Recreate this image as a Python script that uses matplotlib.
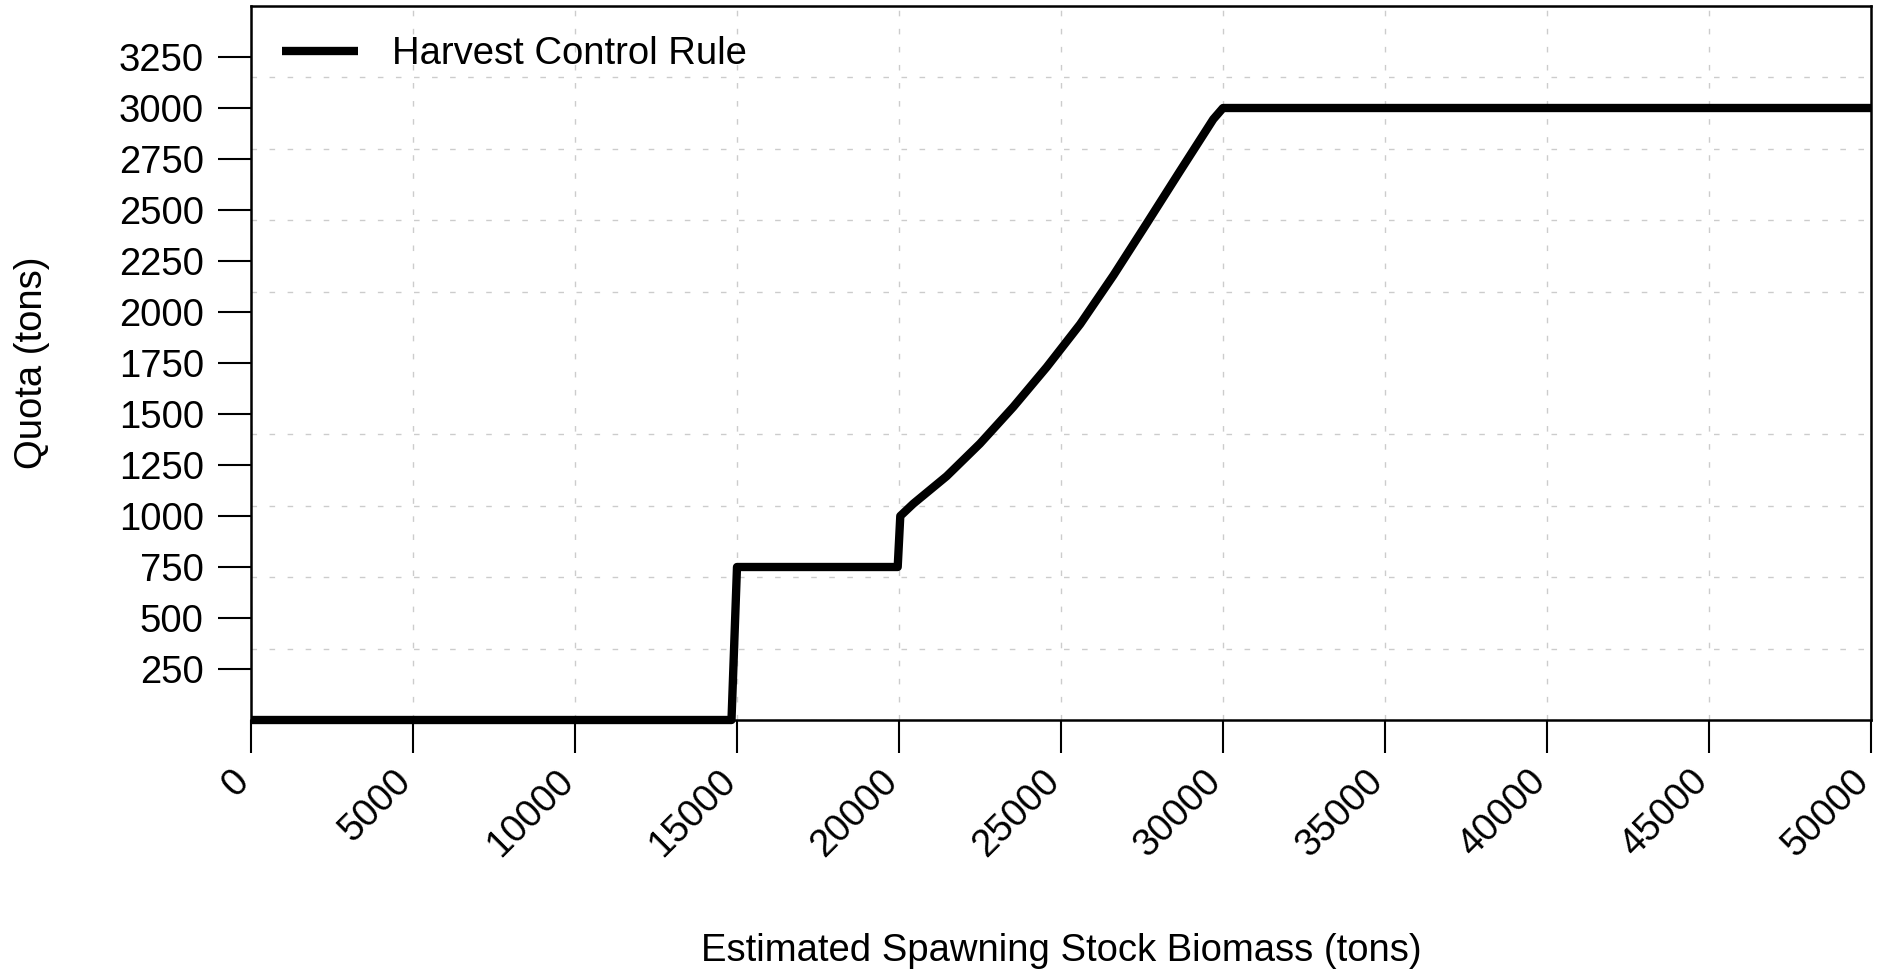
import matplotlib
matplotlib.use("Agg")
import matplotlib.pyplot as plt
from matplotlib.ticker import MultipleLocator
from matplotlib.transforms import ScaledTranslation
import numpy as np

plt.rcParams['font.family'] = ['Liberation Sans', 'DejaVu Sans']

# harvest control rule
ssb = [0, 14830, 15000, 19960, 20040, 20440, 21470, 22500, 23530, 24560,
       25590, 26620, 27650, 28670, 29700, 30000, 50000]
quota = [0, 0, 750, 750, 1000, 1060, 1195, 1355, 1535, 1730,
         1940, 2180, 2435, 2690, 2945, 3000, 3000]

xticks = np.arange(0, 50001, 5000)
yticks = np.arange(250, 3251, 250)


def plot_rule():
    fig = plt.figure(figsize=(18.9, 9.75), dpi=100)
    ax = fig.add_axes([251/1890, 1-720/975, 1620/1890, 714/975])

    ax.plot(ssb, quota, color='black', lw=6, solid_joinstyle='round',
            solid_capstyle='butt', clip_on=False, label='Harvest Control Rule', zorder=3)

    ax.set_xlim(0, 50000)
    ax.set_ylim(0, 3500)
    ax.set_xticks(xticks)
    ax.set_yticks(yticks)
    ax.set_xticklabels([str(v) for v in xticks], rotation=45, ha='right', va='baseline',
                       rotation_mode='anchor')
    # nudge the slanted labels a little to the right, like the original
    shift = ScaledTranslation(15/100, 0, fig.dpi_scale_trans)
    for lab in ax.get_xticklabels():
        lab.set_transform(lab.get_transform() + shift)

    ax.yaxis.set_minor_locator(MultipleLocator(350))
    ax.tick_params(which='major', length=24, width=1.5, labelsize=27.5, direction='out')
    ax.tick_params(axis='x', pad=21)
    ax.tick_params(axis='y', pad=10)
    ax.tick_params(which='minor', length=0)

    ax.grid(True, which='major', axis='x', color='#cccccc', lw=1.0, dashes=(4, 9))
    ax.grid(True, which='minor', axis='y', color='#cccccc', lw=1.0, dashes=(4, 9))
    ax.set_axisbelow(True)
    for s in ax.spines.values():
        s.set_linewidth(1.8)

    ax.set_xlabel('Estimated Spawning Stock Biomass (tons)', fontsize=27.5)
    ax.xaxis.set_label_coords(0.5, -0.298)
    ax.set_ylabel('Quota (tons)', fontsize=27.5)
    ax.yaxis.set_label_coords(-0.124, 0.5)

    ax.legend(loc='center left', bbox_to_anchor=(0.0191, 0.9328), frameon=False,
              fontsize=27.5, handlelength=2.0, handletextpad=0.88, borderpad=0,
              borderaxespad=0)

    plt.savefig('out.png', dpi=100)
    plt.close()


if __name__ == '__main__':
    plot_rule()
